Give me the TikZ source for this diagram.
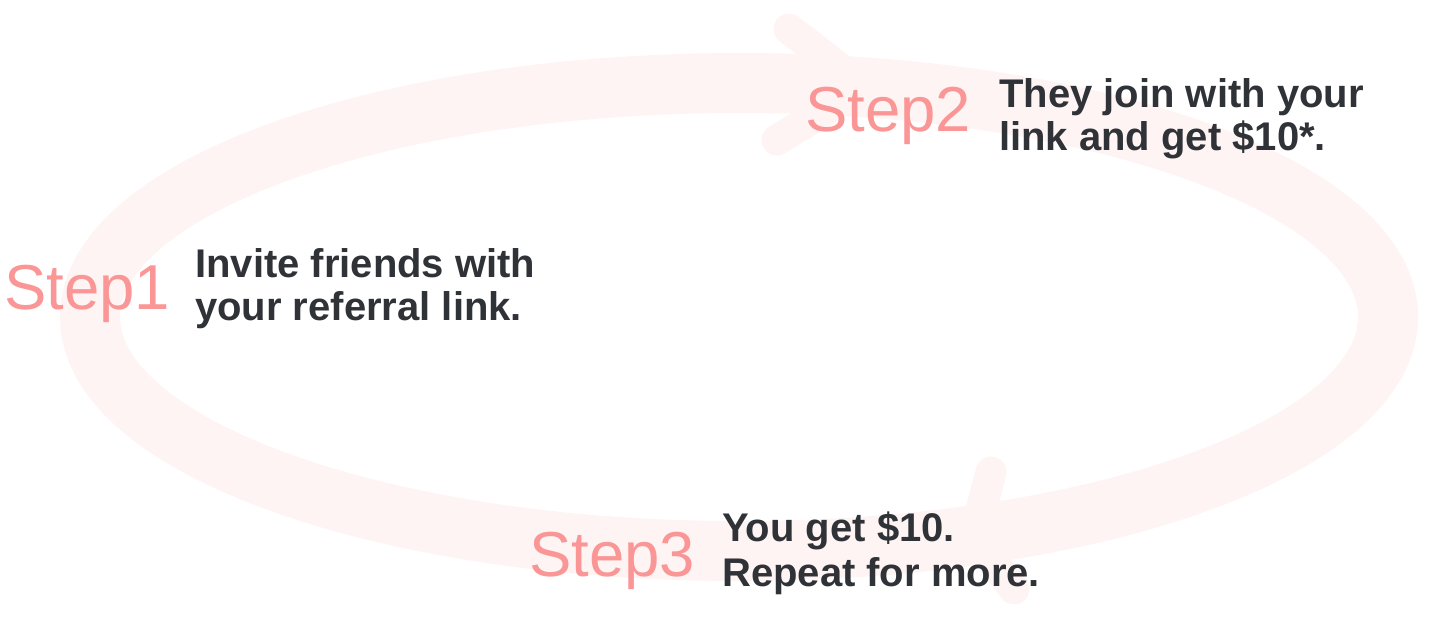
\documentclass[tikz,border=0pt]{standalone}
\usepackage{fontspec}
\setmainfont{Liberation Sans}
\definecolor{band}{RGB}{255,244,244}
\definecolor{steppink}{RGB}{250,150,150}
\definecolor{darktext}{RGB}{47,50,55}
\tikzset{
  ring/.style={draw=band, line width=60pt},
  chevron/.style={draw=band, line width=31pt, line cap=round, line join=round},
  steplabel/.style={text=steppink, inner sep=0pt, anchor=base west, font=\fontsize{63.5}{63.5}\selectfont},
  desc/.style={text=darktext, inner sep=0pt, anchor=base west, font=\bfseries\fontsize{40}{42}\selectfont}
}
\begin{document}
\begin{tikzpicture}[x=1pt,y=-1pt]
\useasboundingbox (0,0) rectangle (1434,622);
% ring
\draw[ring] (739,317) ellipse [x radius=649, y radius=234];
% top chevron
\coordinate (ta) at (789,29);
\coordinate (tt) at (864,87);
\coordinate (tb) at (777,140);
\draw[chevron] (ta) -- (tt) -- (tb);
% bottom chevron
\coordinate (ba) at (991,472);
\coordinate (bt) at (974,537);
\coordinate (bb) at (1014,589);
\draw[chevron] (ba) -- (bt) -- (bb);
% step 1
\node[steplabel] (s1) at (4,309) {Step1};
\node[desc] (d1a) at (195,277) {Invite friends with};
\node[desc] (d1b) at (195,320) {your referral link.};
% step 2
\node[steplabel] (s2) at (805,131) {Step2};
\node[desc] (d2a) at (999,107) {They join with your};
\node[desc] (d2b) at (999,150) {link and get \$10*.};
% step 3
\node[steplabel] (s3) at (529,576) {Step3};
\node[desc] (d3a) at (722,541) {You get \$10.};
\node[desc] (d3b) at (722,586) {Repeat for more.};
\end{tikzpicture}
\end{document}
